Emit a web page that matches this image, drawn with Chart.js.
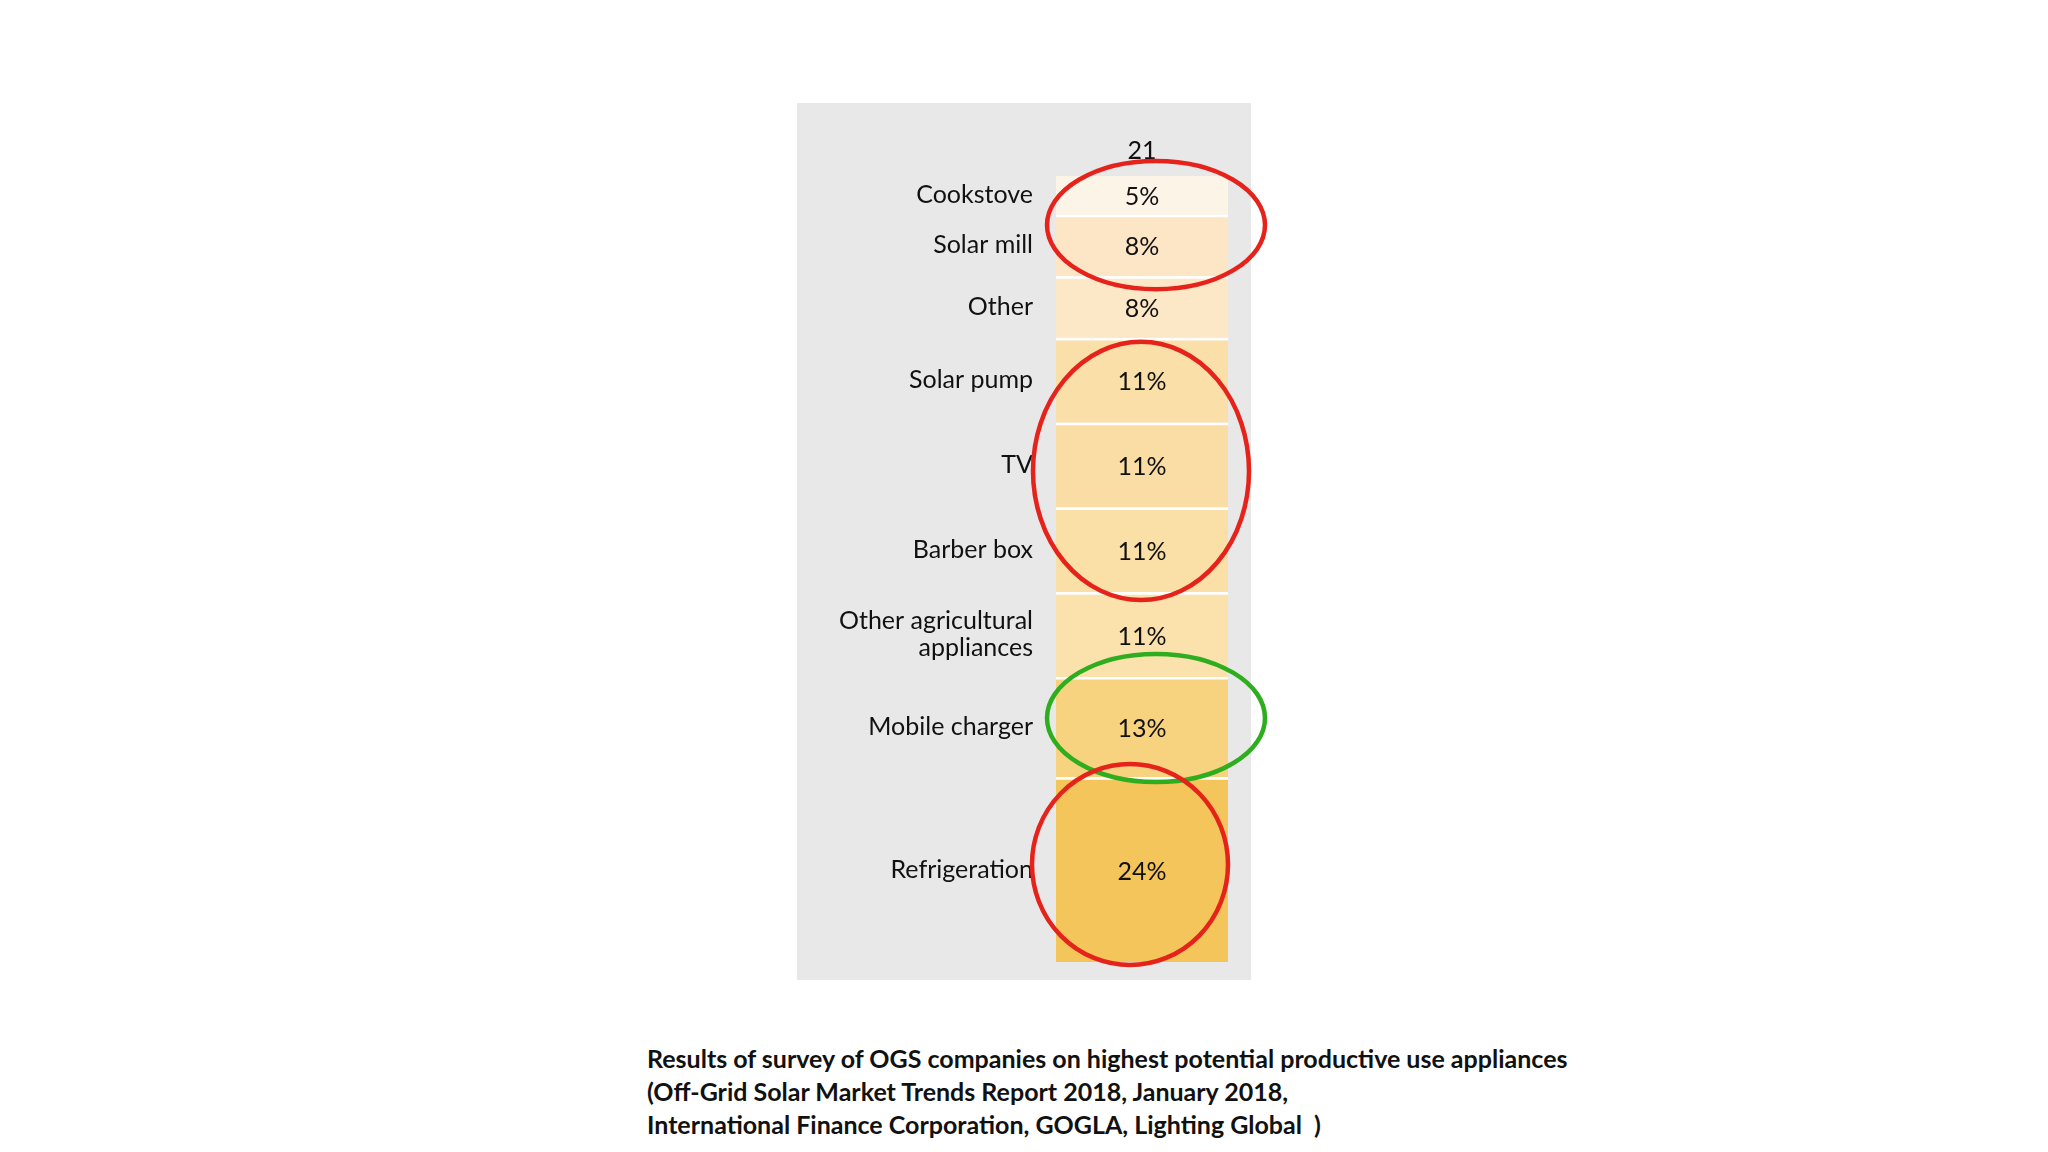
<!DOCTYPE html>
<html>
<head>
<meta charset="utf-8">
<title>Productive use appliances</title>
<script src="https://cdn.jsdelivr.net/npm/chart.js@4.4.1/dist/chart.umd.min.js"></script>
<style>
  html, body { margin: 0; padding: 0; background: #fff; }
  body { width: 2048px; height: 1152px; position: relative; overflow: hidden; font-family: Lato, sans-serif; }
  .panel { position: absolute; left: 797px; top: 103px; width: 454px; height: 877px; background: #e8e8e9; }
  .chart-wrap { position: absolute; left: 797px; top: 103px; width: 480px; height: 877px; }
  .caption { position: absolute; left: 647px; top: 1042px; font-weight: 700; font-size: 25px; line-height: 33px; color: #111; white-space: nowrap; }
</style>
</head>
<body>
<div class="panel"></div>
<div class="chart-wrap"><canvas id="appliance-chart"></canvas></div>
<div class="caption" id="caption"></div>
<script>
// survey data, top of the column to the bottom
const columnLabels = ['21'];
const applianceNames = ['Cookstove', 'Solar mill', 'Other', 'Solar pump', 'TV', 'Barber box',
  ['Other agricultural', 'appliances'], 'Mobile charger', 'Refrigeration'];
const shareValues = [5, 8, 8, 11, 11, 11, 11, 13, 24];
const segmentColors = ['#fdf4e8', '#fce6c5', '#fce7c7', '#fadfa8', '#faddA5', '#fadfa7', '#fbe2ac', '#f8d37f', '#f4c55a'];

// rings drawn round groups of segments (first and last segment index)
const ringFirst = [0, 3, 7, 8];
const ringLast = [1, 5, 7, 8];
const ringColors = ['#e5231b', '#e5231b', '#2eae1f', '#e5231b'];
const ringShapes = [
  { dx: 14, dy: -1, padX: 23, padY: 14 },
  { dx: -1, dy: 6, padX: 22, padY: 2 },
  { dx: 14, dy: -9, padX: 23, padY: 14 },
  { dx: -12, dy: -5, padX: 12, padY: 8 }
];

const captionLines = [
  'Results of survey of OGS companies on highest potential productive use appliances',
  '(Off-Grid Solar Market Trends Report 2018, January 2018,',
  'International Finance Corporation, GOGLA, Lighting Global\u00a0\u00a0)'
];

document.getElementById('caption').innerHTML = captionLines.join('<br>');

// label each category at the middle of its segment
let runningTotal = 0;
const labelPositions = shareValues.map(v => {
  const mid = runningTotal + v / 2;
  runningTotal += v;
  return mid;
});
const totalShare = runningTotal;

const datasets = shareValues.map((v, i) => ({
  label: Array.isArray(applianceNames[i]) ? applianceNames[i].join(' ') : applianceNames[i],
  data: [v],
  backgroundColor: segmentColors[i],
  borderColor: '#ffffff',
  borderWidth: i === 0 ? 0 : { top: 3, right: 0, bottom: 0, left: 0 },
  borderSkipped: false,
  categoryPercentage: 1,
  barPercentage: 1
}));

// percentage inside each segment
const valueLabels = {
  id: 'valueLabels',
  afterDatasetsDraw(chart) {
    const ctx = chart.ctx;
    ctx.save();
    ctx.font = '25px Lato';
    ctx.fillStyle = '#111111';
    ctx.textAlign = 'center';
    ctx.textBaseline = 'middle';
    chart.data.datasets.forEach((ds, i) => {
      const bar = chart.getDatasetMeta(i).data[0];
      const p = bar.getCenterPoint();
      ctx.fillText(ds.data[0] + '%', p.x, p.y + 2);
    });
    ctx.restore();
  }
};

// hand drawn style rings
const highlightRings = {
  id: 'highlightRings',
  afterDraw(chart) {
    const ctx = chart.ctx;
    ctx.save();
    ctx.lineWidth = 4.5;
    for (let r = 0; r < ringFirst.length; r++) {
      const a = chart.getDatasetMeta(ringFirst[r]).data[0];
      const b = chart.getDatasetMeta(ringLast[r]).data[0];
      const top = Math.min(a.y, a.base);
      const bottom = Math.max(b.y, b.base);
      const shape = ringShapes[r];
      const cx = a.x + shape.dx;
      const cy = (top + bottom) / 2 + shape.dy;
      ctx.strokeStyle = ringColors[r];
      ctx.beginPath();
      ctx.ellipse(cx, cy, a.width / 2 + shape.padX, (bottom - top) / 2 + shape.padY, 0, 0, Math.PI * 2);
      ctx.stroke();
    }
    ctx.restore();
  }
};

const ctx = document.getElementById('appliance-chart').getContext('2d');
new Chart(ctx, {
  type: 'bar',
  data: { labels: columnLabels, datasets: datasets },
  options: {
    responsive: true,
    maintainAspectRatio: false,
    animation: false,
    layout: { padding: { top: 0, right: 49, bottom: 18, left: 0 } },
    plugins: { legend: { display: false }, tooltip: { enabled: false } },
    scales: {
      x: {
        stacked: true,
        position: 'top',
        grid: { display: false, drawTicks: false },
        border: { display: false },
        ticks: { padding: 10, color: '#111111', font: { family: 'Lato', size: 25 } },
        afterFit: axis => { axis.height = 73; axis.paddingLeft = 0; axis.paddingRight = 0; }
      },
      y: {
        stacked: true,
        reverse: true,
        min: 0,
        max: totalShare,
        grid: { display: false, drawTicks: false },
        border: { display: false },
        afterBuildTicks: axis => { axis.ticks = labelPositions.map(v => ({ value: v })); },
        afterFit: axis => { axis.width = 259; axis.paddingTop = 0; axis.paddingBottom = 0; },
        ticks: {
          autoSkip: false,
          padding: 23,
          color: '#111111',
          font: { family: 'Lato', size: 25, lineHeight: 1.08 },
          callback: (value, index) => applianceNames[index]
        }
      }
    }
  },
  plugins: [valueLabels, highlightRings]
});
</script>
</body>
</html>
